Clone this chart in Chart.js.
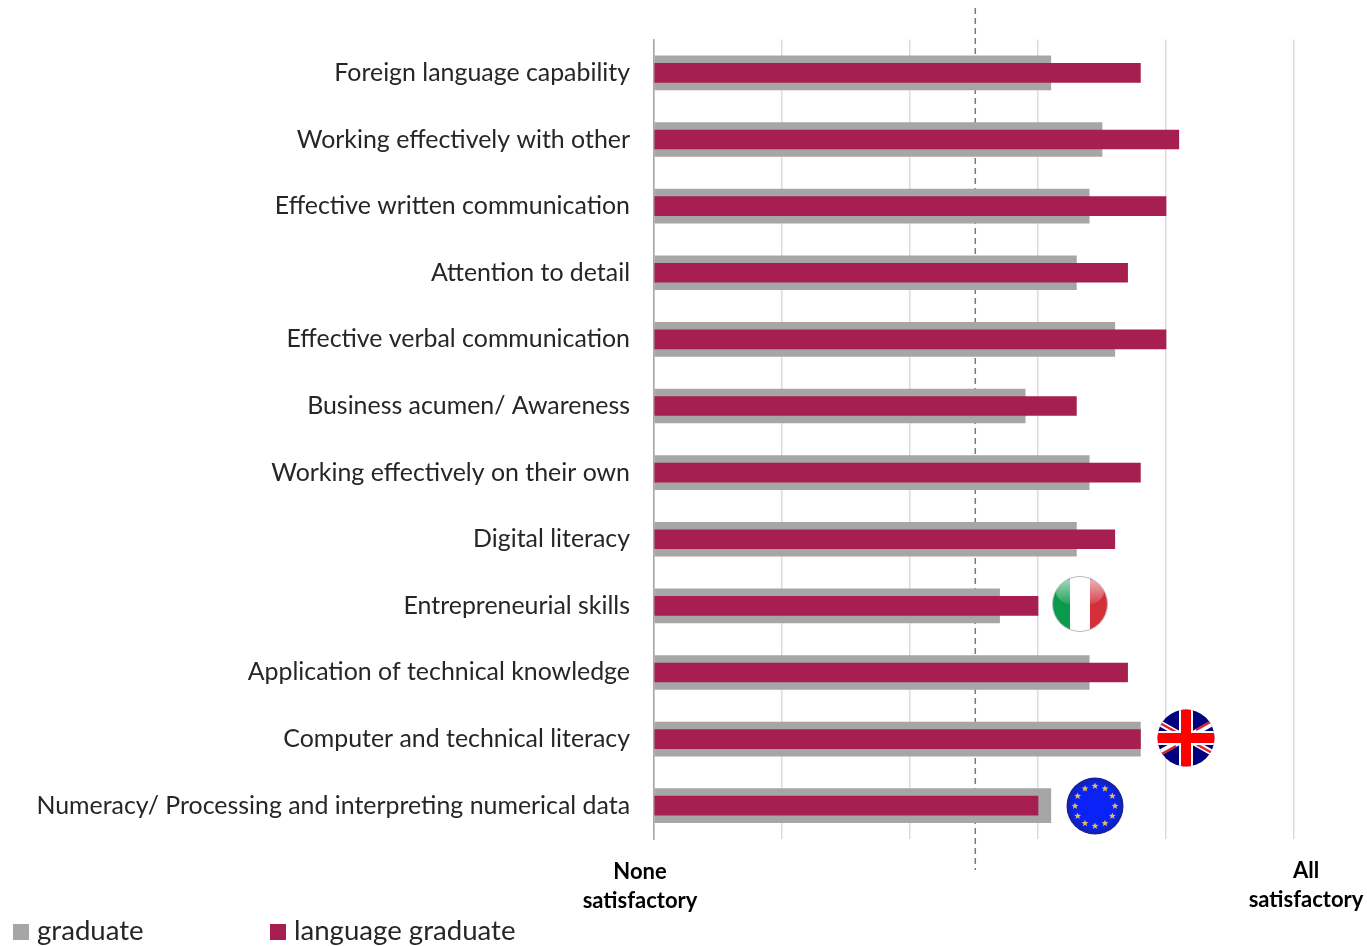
<!DOCTYPE html>
<html>
<head>
<meta charset="utf-8">
<title>Satisfaction with graduate skills</title>
<script src="https://cdn.jsdelivr.net/npm/chart.js@4/dist/chart.umd.min.js"></script>
<style>
  html, body { margin: 0; padding: 0; background: #fff; overflow: hidden; }
  #wrap { position: relative; width: 1367px; height: 946px; overflow: hidden; }
  #skills-chart { position: absolute; left: 0; top: 0; }
  .flag { position: absolute; }
  #legend span.box { position: absolute; top: 924px; width: 16px; height: 16px; }
  #legend span.txt { position: absolute; top: 913px; font: 27.6px Lato, sans-serif; color: #262626; white-space: nowrap; }
</style>
</head>
<body>
<div id="wrap">
  <canvas id="skills-chart" width="1367" height="946"></canvas>
  <div id="legend"></div>

  <svg class="flag" style="left:1050px;top:574px" width="60" height="60" viewBox="-30 -30 60 60">
    <defs>
      <clipPath id="it-clip"><circle r="27.5"/></clipPath>
      <linearGradient id="it-gloss" x1="0" y1="0" x2="0" y2="1">
        <stop offset="0" stop-color="#fff" stop-opacity=".65"/>
        <stop offset="1" stop-color="#fff" stop-opacity=".05"/>
      </linearGradient>
    </defs>
    <g clip-path="url(#it-clip)">
      <rect x="-28" y="-28" width="18" height="56" fill="#0b9a4c"/>
      <rect x="-10" y="-28" width="20" height="56" fill="#fff"/>
      <rect x="10" y="-28" width="18" height="56" fill="#d5303a"/>
      <ellipse cx="0" cy="-12" rx="24" ry="14" fill="url(#it-gloss)"/>
    </g>
    <circle r="27.5" fill="none" stroke="#bbb" stroke-width="1"/>
  </svg>

  <svg class="flag" style="left:1156px;top:708px" width="60" height="60" viewBox="-30 -30 60 60">
    <defs><clipPath id="uk-clip"><circle r="28.5"/></clipPath></defs>
    <g clip-path="url(#uk-clip)">
      <rect x="-30" y="-30" width="60" height="60" fill="#00007e"/>
      <path d="M-30 -17L30 17M30 -17L-30 17" stroke="#fff" stroke-width="6"/>
      <path d="M-28 -16L-10 -6M28 16L10 6M28 -18L10 -8M-28 18L-10 8" stroke="#e0202c" stroke-width="2.5"/>
      <path d="M0 -30V30M-30 0H30" stroke="#fff" stroke-width="14"/>
      <path d="M0 -30V30M-30 0H30" stroke="#f00" stroke-width="10"/>
    </g>
  </svg>

  <svg class="flag" style="left:1065px;top:776px" width="60" height="60" viewBox="-30 -30 60 60">
    <defs>
      <radialGradient id="eu-blue">
        <stop offset="0.75" stop-color="#0a22f5"/>
        <stop offset="1" stop-color="#16219a"/>
      </radialGradient>
    </defs>
    <circle r="28.5" fill="url(#eu-blue)"/>
    <g id="eu-stars" fill="#e9c04a"></g>
  </svg>
</div>

<script>
const categories = [
  "Foreign language capability",
  "Working effectively with other",
  "Effective written communication",
  "Attention to detail",
  "Effective verbal communication",
  "Business acumen/ Awareness",
  "Working effectively on their own",
  "Digital literacy",
  "Entrepreneurial skills",
  "Application of technical knowledge",
  "Computer and technical literacy",
  "Numeracy/ Processing and interpreting numerical data",
];
const graduate = [3.1, 3.5, 3.4, 3.3, 3.6, 2.9, 3.4, 3.3, 2.7, 3.4, 3.8, 3.1];
const languageGraduate = [3.8, 4.1, 4.0, 3.7, 4.0, 3.3, 3.8, 3.6, 3.0, 3.7, 3.8, 3.0];
const midpoint = 2.51;
const axisMin = 0;
const axisMax = 5;
const endLabels = [
  { value: 0, shift: -14, y: 872, lines: ["None", "satisfactory"] },
  { value: 5, shift: 12, y: 871, lines: ["All", "satisfactory"] },
];

// dashed marker, runs past the plot on both sides and sits behind the bars
const midLine = {
  id: "midLine",
  beforeDatasetsDraw(chart) {
    const ctx = chart.ctx;
    const x = chart.scales.x.getPixelForValue(midpoint);
    ctx.save();
    ctx.strokeStyle = "#7a7a7a";
    ctx.lineWidth = 1.5;
    ctx.setLineDash([6, 4]);
    ctx.beginPath();
    ctx.moveTo(x, 8);
    ctx.lineTo(x, 870);
    ctx.stroke();
    ctx.restore();
  },
};

// the two ends of the scale are named, nothing in between
const scaleEnds = {
  id: "scaleEnds",
  afterDraw(chart) {
    const ctx = chart.ctx;
    ctx.save();
    ctx.font = "bold 22px Lato, sans-serif";
    ctx.fillStyle = "#000";
    ctx.textAlign = "center";
    ctx.textBaseline = "middle";
    for (const end of endLabels) {
      const x = chart.scales.x.getPixelForValue(end.value) + end.shift;
      end.lines.forEach((line, i) => ctx.fillText(line, x, end.y + i * 29));
    }
    ctx.restore();
  },
};

const chart = new Chart(document.getElementById("skills-chart").getContext("2d"), {
  type: "bar",
  data: {
    labels: categories,
    datasets: [
      {
        label: "graduate",
        data: graduate,
        backgroundColor: "#a6a6a6",
        barThickness: 34,
        order: 2,
      },
      {
        label: "language graduate",
        data: languageGraduate,
        backgroundColor: "#a61f50",
        barThickness: 19,
        order: 1,
      },
    ],
  },
  options: {
    indexAxis: "y",
    animation: false,
    responsive: false,
    grouped: false,
    layout: { padding: { left: 0, right: 73, top: 39.6, bottom: 107 } },
    plugins: {
      legend: { display: false },
      tooltip: { enabled: false },
    },
    scales: {
      x: {
        min: axisMin,
        max: axisMax,
        afterFit: (scale) => { scale.height = 0; },
        ticks: { display: false, stepSize: 1 },
        border: { display: false },
        grid: { color: "#dcdcdc", lineWidth: 1.5, drawTicks: false },
      },
      y: {
        afterFit: (scale) => { scale.width = 654; },
        ticks: {
          padding: 16,
          autoSkip: false,
          color: "#262626",
          font: { family: "Lato, sans-serif", size: 24.9 },
        },
        border: { color: "#a6a6a6", width: 1.5 },
        grid: { display: false },
      },
    },
  },
  plugins: [midLine, scaleEnds],
});

// legend sits in the page so the entries can be spaced freely
const legendX = [[13, 37], [270, 294]];
const legendEl = document.getElementById("legend");
chart.data.datasets.forEach((ds, i) => {
  legendEl.innerHTML +=
    `<span class="box" style="left:${legendX[i][0]}px;background:${ds.backgroundColor}"></span>` +
    `<span class="txt" style="left:${legendX[i][1]}px">${ds.label}</span>`;
});

// ring of twelve stars on the blue flag
const stars = document.getElementById("eu-stars");
let starPaths = "";
for (let i = 0; i < 12; i++) {
  const a = (i * Math.PI) / 6;
  const cx = 20 * Math.sin(a);
  const cy = -20 * Math.cos(a);
  let d = "";
  for (let k = 0; k < 10; k++) {
    const r = k % 2 ? 1.5 : 3.6;
    const b = (k * Math.PI) / 5;
    d += (k ? "L" : "M") + (cx + r * Math.sin(b)).toFixed(2) + " " + (cy - r * Math.cos(b)).toFixed(2);
  }
  starPaths += `<path d="${d}Z"/>`;
}
stars.innerHTML = starPaths;
</script>
</body>
</html>
